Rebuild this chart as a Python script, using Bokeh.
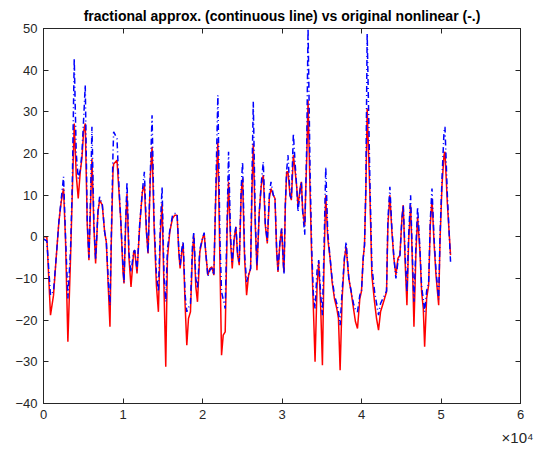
from bokeh.plotting import figure
from bokeh.models import Range1d, FixedTicker, LinearAxis, Title, CustomJSTickFormatter
from bokeh.embed import file_html
from bokeh.resources import INLINE

x_vals = [0, 420, 882, 1261, 1597, 1933, 2227, 2521, 2773, 3067, 3403, 3614, 3866, 4118, 4370, 4622, 4832, 5042, 5252, 5504,
          5714, 5924, 6093, 6345, 6555, 6849, 7059, 7395, 7689, 7899, 8193, 8361, 8529, 8739, 8824, 9244, 9496, 9706, 10000,
          10126, 10336, 10504, 10756, 11008, 11345, 11471, 11765, 12101, 12437, 12689, 12941, 13151, 13446, 13656, 13908,
          14202, 14454, 14706, 14916, 15168, 15378, 15588, 15883, 16219, 16513, 16807, 17017, 17185, 17395, 17564, 17816,
          18026, 18236, 18488, 18740, 18908, 19160, 19370, 19665, 20000, 20210, 20420, 20672, 20924, 21177, 21429, 21681,
          21933, 22185, 22395, 22605, 22857, 23109, 23278, 23530, 23740, 23992, 24202, 24412, 24622, 24874, 25042, 25295,
          25547, 25799, 26051, 26219, 26387, 26639, 26849, 27143, 27396, 27648, 27900, 28152, 28404, 28614, 28908, 29118,
          29328, 29496, 29748, 29958, 30168, 30252, 30420, 30588, 30756, 31008, 31177, 31429, 31639, 31849, 32017, 32269,
          32437, 32605, 32857, 33109, 33277, 33529, 33739, 33949, 34159, 34411, 34621, 34873, 35084, 35294, 35504, 35756,
          36050, 36302, 36597, 36891, 37101, 37311, 37563, 37857, 38067, 38403, 38697, 38991, 39244, 39496, 39790, 40000,
          40210, 40378, 40546, 40714, 41050, 41303, 41639, 41891, 42143, 42395, 42647, 42899, 43151, 43319, 43571, 43824,
          44076, 44328, 44580, 44832, 45084, 45252, 45504, 45714, 45924, 46177, 46387, 46597, 46849, 47059, 47353, 47563,
          47773, 47941, 48193, 48445, 48655, 48866, 49118, 49370, 49706, 49874, 50126, 50378, 50500, 50800, 51200]

red_vals = [0, 0, -18.8, -14, -5, 3.6, 8.4, 11.6, -1, -25.2, -5, 10, 27.2, 14.8, 9.2, 15.6, 18.8, 25.2, 27.2, 2.8,
            -5.6, 8, 18.8, 2, -6.4, 6, 8.8, 7.6, 1.2, -1.2, -14, -21.6, -1.2, 15.6, 17.5, 18.4, 10.8, 4.4, -8.4,
            -11.2, 3, 10.4, -5.2, -12, -3.6, -3.2, -8.8, 2.8, 10.8, 12.4, 1.2, -4, 14.8, 21.6, 2.8,
            -11.6, -18, 1.2, 8, -13.2, -31.2, -5.2, 1.2, 4.4, 5.2, 5.2, -3.6, -7.6, -3.6, -1.6, -16.4,
            -26, -19.6, -18, -3.6, 0.4, -12, -15.6, -3.6, -0.4, 0.8, -4, -9.2, -7.6, -7.2, -9.2, 10.8,
            22.8, -5.2, -28.4, -23.6, -22.8, 2.8, 13.2, -1.2, -7.6, -0.4, 2.4, -4.4, -6.8, 10.8, 14, -5.2,
            -14, -9.2, -7.6, 10.8, 22.4, 2.8, -8, 6, 12.4, 14.8, 2.8, -1.6, 9.2, 11.6, 10, 9.2,
            -3.6, -8.4, -1.2, 2, -6.8, -8.4, 7.6, 15.6, 15.6, 10, 8.8, 19.6, 16, 12, 7.2, 11.6,
            13.2, 6, 2.8, 18.8, 32.8, 10.8, -5.2, -17.2, -30, -11.6, -6, -17.2, -30.8, -5.2, 10, -0.4,
            -5.2, -10.8, -14.8, -17.2, -19.6, -32, -14.8, -5.2, -2.4, -10, -13.2, -17.2, -20.4, -22, -14.8, -13,
            -5.2, -2, 10.8, 30.8, 10.8, -9.2, -15.6, -19.6, -22.4, -18, -16.4, -14.8, -13.2, 2.8, 10, 1.2,
            -5.2, -9.2, -5.2, -4.4, 4.4, 7.6, -6.8, -16.4, -1.2, 7.6, -5.2, -21.6, -3.6, 4.8, -3.6, -13.2,
            -17.2, -26.4, -14.8, -11.6, 2.8, 9.2, -1.2, -9.2, -16.4, -1.2, 12.4, 19.6, 20.4, 8, -4.4]

blue_vals = [-0.5, -1, -14, -13, -5, 3.6, 9, 14.4, 0, -14.8, -3, 12, 42.8, 20, 14, 16, 20, 28, 36.4, 4,
             -5, 10, 26.4, 3, -5.5, 6, 9.6, 7.8, 1.2, -1, -12, -16.4, 0, 20, 25.2, 23.6, 12, 4.4, -7,
             -11, 4, 13.2, -4, -8.4, -3.6, -3.2, -8, 3, 11, 15.6, 2, -4, 16, 29.2, 4,
             -9, -13.2, 3, 12, -10, -15.6, -3, 1.5, 5, 5.6, 5.6, -3, -7, -3, -1, -14,
             -18, -17, -16, -2, 1.2, -10, -12.4, -3, -0.4, 1, -4, -9.5, -8, -7.5, -9.2, 12,
             34, 0, -13.2, -15, -17.2, 5, 20.4, 0, -6, 0, 2.4, -4, -6, 12, 18, -4,
             -10.8, -9, -7.6, 14, 32.4, 4, -7, 6, 13, 18, 3, -1, 10, 13.2, 10, 9.5,
             -3, -8, -1, 2, -6, -9, 8, 16, 19.6, 10, 9, 24.8, 18, 12, 6, 11,
             13.2, 6, 0.5, 22, 50, 16, -3, -14, -17.2, -8, -5.6, -14, -18.8, -2, 16.8, 1,
             -5, -10, -14, -16, -18, -21.2, -13, -5, -1.2, -10, -13, -16, -17.6, -18, -14, -13,
             -5.2, -2, 12, 48.8, 14, -7, -13, -16, -18.8, -16, -15, -14, -13, 4, 12, 2,
             -5, -10, -6, -4.5, 4.4, 7.6, -5, -13.2, 0, 10, -4, -15.6, -2, 7.2, -3, -12,
             -15, -18, -13, -11, 4, 11.6, 0, -8, -15, 0, 14, 25.2, 26.4, 10, -6]

x_ticks = [0, 10000, 20000, 30000, 40000, 50000, 60000]
x_tick_labels = ["0", "1", "2", "3", "4", "5", "6"]
y_ticks = [-40, -30, -20, -10, 0, 10, 20, 30, 40, 50]

title_text = "fractional approx. (continuous line) vs original nonlinear (-.)"
exponent_text = "×10⁴"

FONT = "Liberation Sans"
AX = "#262626"

p = figure(width=537, height=457, x_range=Range1d(0, 60000), y_range=Range1d(-40, 50),
           output_backend="svg", toolbar_location=None,
           min_border_left=43, min_border_right=17, min_border_top=28, min_border_bottom=54)
p.background_fill_color = "white"
p.border_fill_color = "white"
p.outline_line_color = AX
p.outline_line_width = 1
p.xgrid.visible = False
p.ygrid.visible = False

p.title.text = title_text
p.title.align = "center"
p.title.text_font = FONT
p.title.text_font_size = "14px"
p.title.text_font_style = "bold"
p.title.text_color = "black"
p.title.standoff = 10

p.line(x_vals, red_vals, line_color="#FF0000", line_width=1.5)
p.line(x_vals, blue_vals, line_color="#0000FF", line_width=1.5, line_dash="6 3 1 3")

overrides = {t: l for t, l in zip(x_ticks, x_tick_labels)}

def style_axis(ax):
    ax.axis_line_color = AX
    ax.axis_line_width = 1
    ax.major_tick_line_color = AX
    ax.major_tick_in = 5
    ax.major_tick_out = 0
    ax.minor_tick_line_color = None
    ax.major_label_text_font = FONT
    ax.major_label_text_font_size = "13px"
    ax.major_label_text_color = AX

xa = p.xaxis[0]
xa.ticker = FixedTicker(ticks=x_ticks)
xa.major_label_overrides = overrides
style_axis(xa)
xa.major_label_standoff = 6

ya = p.yaxis[0]
ya.ticker = FixedTicker(ticks=y_ticks)
style_axis(ya)
ya.major_label_standoff = 6

blank = CustomJSTickFormatter(code="return ''")
top = LinearAxis(ticker=FixedTicker(ticks=x_ticks), formatter=blank)
style_axis(top)
top.major_label_standoff = 0
top.major_label_text_font_size = "0px"
p.add_layout(top, "above")
right = LinearAxis(ticker=FixedTicker(ticks=y_ticks), formatter=blank)
style_axis(right)
right.major_label_standoff = 0
right.major_label_text_font_size = "0px"
p.add_layout(right, "right")

exp_title = Title(text=exponent_text, align="right", offset=-13, text_font=FONT,
                  text_font_size="15px", text_font_style="normal", text_color=AX, standoff=11)
p.add_layout(exp_title, "below")

open("out.html", "w").write(file_html(p, INLINE))
